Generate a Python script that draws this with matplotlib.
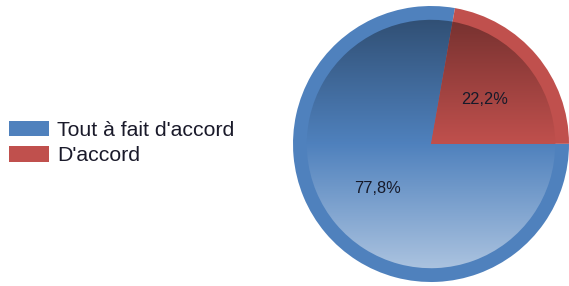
import numpy as np
import matplotlib
matplotlib.use("Agg")
import matplotlib.pyplot as plt
from matplotlib.colors import to_rgb
from matplotlib.patches import Patch

labels = ["Tout à fait d'accord", "D'accord"]
values = [77.8, 22.2]
colors = ["#4F81BD", "#C0504D"]

plt.rcParams['font.family'] = ['Liberation Sans', 'DejaVu Sans']

W, H = 569, 286
fig = plt.figure(figsize=(W / 100, H / 100), dpi=100)

# pie axes placed so the circle lands where the reference has it
cx, cy, R = 431, 144, 138
ax = fig.add_axes([(cx - R) / W, (H - cy - R) / H, 2 * R / W, 2 * R / H])
ax.set_xlim(-1, 1)
ax.set_ylim(-1, 1)
ax.set_aspect('equal')
ax.axis('off')

# outer rim in flat colours
ax.pie(values, colors=colors, startangle=80, radius=1.0, frame=True,
       wedgeprops=dict(linewidth=0))

# inner disc with a vertical gradient (dark top, light bottom)
inner, _, pcts = ax.pie(values, colors=colors, startangle=80, radius=0.9, frame=True,
                        autopct=lambda p: f'{p:.1f}%'.replace('.', ','),
                        pctdistance=0.56,
                        wedgeprops=dict(linewidth=0),
                        textprops=dict(fontsize=11.8, color='#161a2a'))

yy = np.linspace(1, -1, 300)[:, None] * np.ones((1, 300))
for w, c in zip(inner, colors):
    base = np.array(to_rgb(c))
    up = np.clip(yy, 0, 1)[..., None]
    dn = np.clip(-yy, 0, 1)[..., None]
    img = base * (1 - 0.38 * up / 0.9)
    img = img + (1 - img) * (0.52 * dn / 0.9)
    img = np.clip(img, 0, 1)
    im = ax.imshow(img, extent=[-1, 1, -1, 1], zorder=2, interpolation='bilinear')
    im.set_clip_path(w)

for t in pcts:
    t.set_zorder(5)

ax.set_xlim(-1, 1)
ax.set_ylim(-1, 1)

handles = [Patch(facecolor=c, edgecolor='none') for c in colors]
fig.legend(handles, labels, loc='center left', bbox_to_anchor=(9 / W, 0.5),
           frameon=False, fontsize=15.3, borderpad=0, borderaxespad=0,
           handlelength=1.88, handleheight=0.75, handletextpad=0.4,
           labelspacing=0.3, labelcolor='#1a1a2a')

fig.savefig('out.png', dpi=100)
